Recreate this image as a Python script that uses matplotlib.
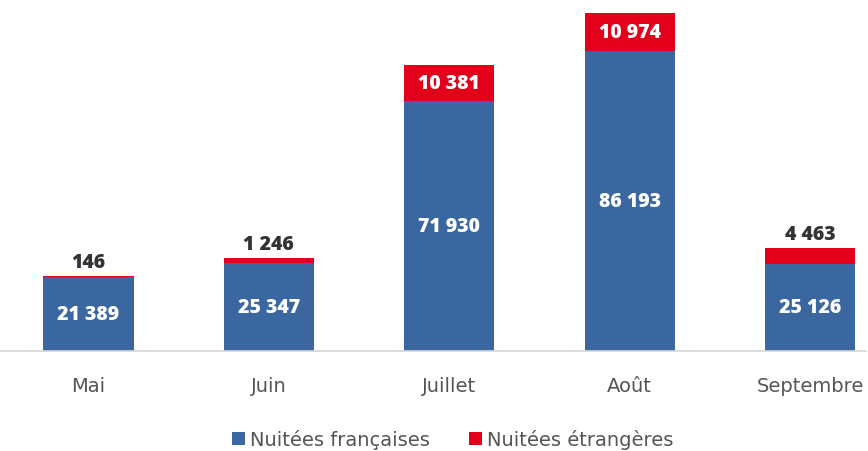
import matplotlib.pyplot as plt
import numpy as np

# ----- Data -----
mois = ["Mai", "Juin", "Juillet", "Août", "Septembre"]
nuitees_fr = [21389, 25347, 71930, 86193, 25126]
nuitees_etr = [146, 1246, 10381, 10974, 4463]

blue = "#3b67a0"
red = "#e2001a"
plt.rcParams['font.family'] = ['Open Sans', 'DejaVu Sans']


def fmt(v):
    return f"{v:,}".replace(",", " ")


fig = plt.figure(figsize=(8.68, 4.52), dpi=100)
ax = fig.add_axes([0, 100 / 452, 866 / 868, 338 / 452])

x = np.arange(len(mois))
fr = np.array(nuitees_fr)
etr = np.array(nuitees_etr)
ax.bar(x, fr, width=0.5, color=blue, label="Nuitées françaises")
ax.bar(x, etr, width=0.5, bottom=fr, color=red, label="Nuitées étrangères")

ax.set_xlim(-0.49, 4.31)
ax.set_ylim(0, (fr + etr).max())

# labels inside blue bars
for xi, v in zip(x, fr):
    ax.text(xi, v / 2, fmt(v), ha="center", va="center", color="white",
            fontsize=14, fontweight="heavy")

# labels for foreign nights: inside if segment is big, above otherwise
for xi, f, e in zip(x, fr, etr):
    if e > 8000:
        ax.text(xi, f + e / 2, fmt(e), ha="center", va="center", color="white",
                fontsize=14, fontweight="heavy")
    else:
        ax.annotate(fmt(e), (xi, f + e), xytext=(0, 3), textcoords="offset points",
                    ha="center", va="bottom", color="#333333",
                    fontsize=14, fontweight="heavy")

for s in ["top", "left", "right"]:
    ax.spines[s].set_visible(False)
ax.spines["bottom"].set_color("#d6d6d6")
ax.spines["bottom"].set_linewidth(1.2)
ax.set_yticks([])
ax.set_xticks(x)
ax.set_xticklabels(mois, fontsize=14, color="#555555", family="DejaVu Sans")
ax.tick_params(axis="x", length=0, pad=18)

fig.legend(loc="center", bbox_to_anchor=(453 / 868, 12 / 452), ncol=2,
           frameon=False, prop={"family": "DejaVu Sans", "size": 14},
           handlelength=0.68, handleheight=0.68,
           handletextpad=0.26, columnspacing=2.0, labelcolor="#555555")

fig.savefig("out.png", dpi=100)
